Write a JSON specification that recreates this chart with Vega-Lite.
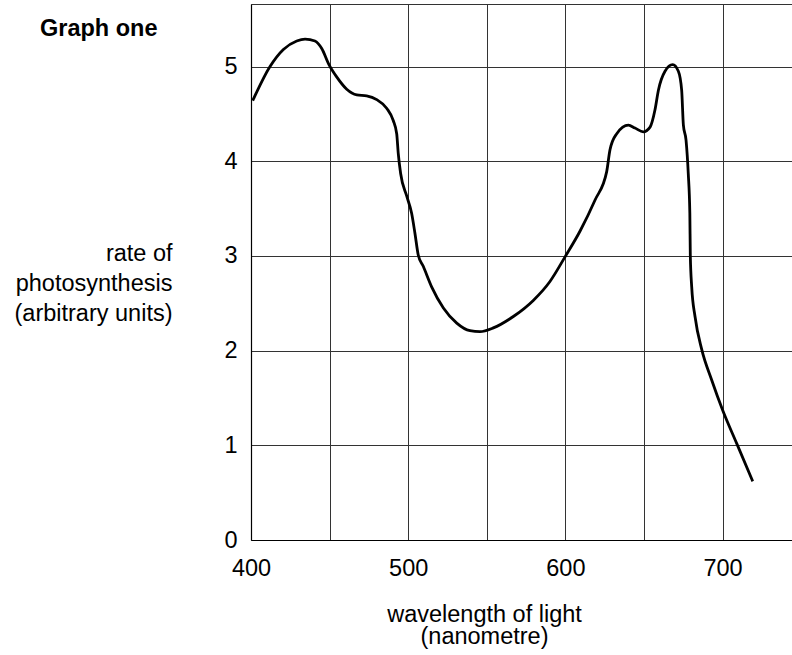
{
  "$schema": "https://vega.github.io/schema/vega-lite/v6.json",
  "width": 541,
  "height": 536,
  "autosize": "none",
  "padding": {"left": 251, "top": 4, "right": 0, "bottom": 115},
  "background": "white",
  "config": {
    "view": {"stroke": null},
    "font": "Liberation Sans"
  },
  "title": {
    "text": "Graph one",
    "anchor": "start",
    "frame": "group",
    "orient": "top",
    "offset": 0,
    "baseline": "alphabetic",
    "dx": -211,
    "dy": 67,
    "fontSize": 23.5,
    "fontWeight": "bold",
    "font": "Liberation Sans",
    "color": "#000"
  },
  "data": {
    "values": [
      {"nm": 401.1, "rate": 4.64},
      {"nm": 412.1, "rate": 5.0},
      {"nm": 420.6, "rate": 5.18},
      {"nm": 429.1, "rate": 5.27},
      {"nm": 434.4, "rate": 5.29},
      {"nm": 440.7, "rate": 5.27},
      {"nm": 445.0, "rate": 5.19},
      {"nm": 449.6, "rate": 5.02},
      {"nm": 454.5, "rate": 4.89},
      {"nm": 460.9, "rate": 4.76},
      {"nm": 467.3, "rate": 4.7},
      {"nm": 473.6, "rate": 4.69},
      {"nm": 480.0, "rate": 4.65},
      {"nm": 486.3, "rate": 4.56},
      {"nm": 490.5, "rate": 4.43},
      {"nm": 492.7, "rate": 4.29},
      {"nm": 493.7, "rate": 4.08},
      {"nm": 495.2, "rate": 3.87},
      {"nm": 499.1, "rate": 3.63},
      {"nm": 502.2, "rate": 3.45},
      {"nm": 504.3, "rate": 3.24},
      {"nm": 506.4, "rate": 3.01},
      {"nm": 509.6, "rate": 2.89},
      {"nm": 515.0, "rate": 2.67},
      {"nm": 522.4, "rate": 2.45},
      {"nm": 530.9, "rate": 2.29},
      {"nm": 539.3, "rate": 2.21},
      {"nm": 545.7, "rate": 2.2},
      {"nm": 554.2, "rate": 2.24},
      {"nm": 566.9, "rate": 2.36},
      {"nm": 579.6, "rate": 2.53},
      {"nm": 590.2, "rate": 2.73},
      {"nm": 599.8, "rate": 2.99},
      {"nm": 609.3, "rate": 3.26},
      {"nm": 618.9, "rate": 3.59},
      {"nm": 626.3, "rate": 3.89},
      {"nm": 628.4, "rate": 4.12},
      {"nm": 632.7, "rate": 4.29},
      {"nm": 640.1, "rate": 4.38},
      {"nm": 644.3, "rate": 4.35},
      {"nm": 649.6, "rate": 4.31},
      {"nm": 653.9, "rate": 4.36},
      {"nm": 657.0, "rate": 4.54},
      {"nm": 659.2, "rate": 4.75},
      {"nm": 663.4, "rate": 4.95},
      {"nm": 668.3, "rate": 5.02},
      {"nm": 671.9, "rate": 4.95},
      {"nm": 674.0, "rate": 4.75},
      {"nm": 675.1, "rate": 4.38},
      {"nm": 676.8, "rate": 4.22},
      {"nm": 678.2, "rate": 3.87},
      {"nm": 679.2, "rate": 3.45},
      {"nm": 679.5, "rate": 3.01},
      {"nm": 680.4, "rate": 2.67},
      {"nm": 682.5, "rate": 2.36},
      {"nm": 686.8, "rate": 2.01},
      {"nm": 693.1, "rate": 1.69},
      {"nm": 700.1, "rate": 1.37},
      {"nm": 709.0, "rate": 1.02},
      {"nm": 719.2, "rate": 0.62}
    ]
  },
  "mark": {"type": "line", "interpolate": "monotone", "color": "#000", "strokeWidth": 2.8},
  "encoding": {
    "x": {
      "field": "nm",
      "type": "quantitative",
      "scale": {"domain": [400, 744.2], "nice": false, "zero": false},
      "axis": {
        "values": [400, 450, 500, 550, 600, 650, 700],
        "tickCount": 20,
        "labelExpr": "datum.value % 100 == 0 ? datum.label : ''",
        "format": "d",
        "grid": true,
        "gridColor": "#333",
        "gridWidth": 1,
        "gridOpacity": 1,
        "ticks": false,
        "tickSize": 0,
        "domain": true,
        "domainColor": "#000",
        "domainWidth": 1.2,
        "labelFont": "Liberation Sans",
        "labelFontSize": 23.5,
        "labelColor": "#000",
        "labelPadding": 16,
        "labelFlush": false,
        "labelOverlap": false,
        "title": ["wavelength of light", "(nanometre)"],
        "titleFont": "Liberation Sans",
        "titleFontSize": 23.5,
        "titleFontWeight": "normal",
        "titleColor": "#000",
        "titleX": 233,
        "titleY": 81,
        "titleAlign": "center",
        "titleBaseline": "alphabetic",
        "titleLineHeight": 22
      }
    },
    "y": {
      "field": "rate",
      "type": "quantitative",
      "scale": {"domain": [0, 5.66], "nice": false, "zero": true},
      "axis": {
        "values": [0, 1, 2, 3, 4, 5, 5.66],
        "tickCount": 20,
        "tickMinStep": 0.1,
        "labelExpr": "datum.value > 5.5 ? '' : format(datum.value, 'd')",
        "grid": true,
        "gridColor": "#333",
        "gridWidth": 1,
        "gridOpacity": 1,
        "ticks": false,
        "tickSize": 0,
        "domain": true,
        "domainColor": "#000",
        "domainWidth": 1.2,
        "labelFont": "Liberation Sans",
        "labelFontSize": 23.5,
        "labelColor": "#000",
        "labelPadding": 14,
        "labelFlush": false,
        "labelOverlap": false,
        "title": ["rate of\u00a0\u00a0", "photosynthesis", "(arbitrary units)"],
        "titleFont": "Liberation Sans",
        "titleFontSize": 23.5,
        "titleFontWeight": "normal",
        "titleColor": "#000",
        "titleAngle": 0,
        "titleX": -79,
        "titleY": 256,
        "titleAlign": "right",
        "titleBaseline": "alphabetic",
        "titleLineHeight": 30
      }
    }
  }
}
